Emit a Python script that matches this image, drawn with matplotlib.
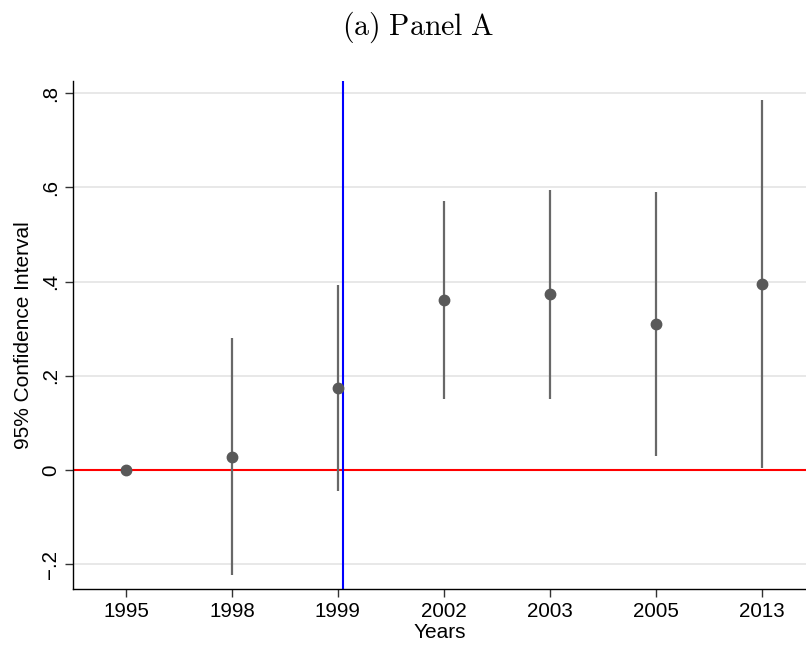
import numpy as np
import matplotlib.pyplot as plt

# data
years = ["1995", "1998", "1999", "2002", "2003", "2005", "2013"]
estimate = [0.0, 0.028, 0.175, 0.36, 0.373, 0.31, 0.395]
ci_low = [0.0, -0.223, -0.045, 0.15, 0.15, 0.03, 0.004]
ci_high = [0.0, 0.28, 0.392, 0.572, 0.595, 0.59, 0.785]
y_ticks = [-0.2, 0, 0.2, 0.4, 0.6, 0.8]
y_tick_labels = ["\u2212.2", "0", ".2", ".4", ".6", ".8"]
event_pos = 2.05

plt.rcParams['font.family'] = ['Liberation Sans', 'DejaVu Sans']
plt.rcParams['mathtext.fontset'] = 'cm'

fig = plt.figure(figsize=(8.06, 6.46), dpi=100)
ax = fig.add_axes([0.0906, 0.0882, 0.9094, 0.7864])

x = np.arange(len(years))
est = np.array(estimate)
lo = np.array(ci_low)
hi = np.array(ci_high)

ax.vlines(x, lo, hi, color='#686868', linewidth=1.6, zorder=3)
ax.plot(x, est, 'o', color='#595959', markersize=7.5, zorder=4)
ax.axhline(0, color='#ff0000', linewidth=1.5, zorder=2)
ax.axvline(event_pos, color='#0000ff', linewidth=1.5, zorder=2)

ax.set_xlim(-0.5, 6.42)
ax.set_ylim(-0.253, 0.826)
ax.set_xticks(x)
ax.set_xticklabels(years)
ax.set_yticks(y_ticks)
ax.set_yticklabels(y_tick_labels, rotation=90, va='center')
ax.grid(axis='y', color='#e6e6e6', linewidth=1.3, zorder=0)
ax.set_axisbelow(True)

for s in ['top', 'right']:
    ax.spines[s].set_visible(False)
ax.spines['left'].set_linewidth(1.0)
ax.spines['bottom'].set_linewidth(1.0)
ax.tick_params(axis='both', labelsize=14.8, length=5.5, width=1.0, color='#333333', pad=4)

ax.set_xlabel("Years", fontsize=15, labelpad=1)
ax.set_ylabel("95% Confidence Interval", fontsize=15)
ax.yaxis.set_label_coords(-0.055, 0.5)

fig.text(0.519, 0.958, r"$\mathrm{(a)\ Panel\ A}$", ha='center', va='center', fontsize=21.5)

fig.savefig("out.png", dpi=100)
